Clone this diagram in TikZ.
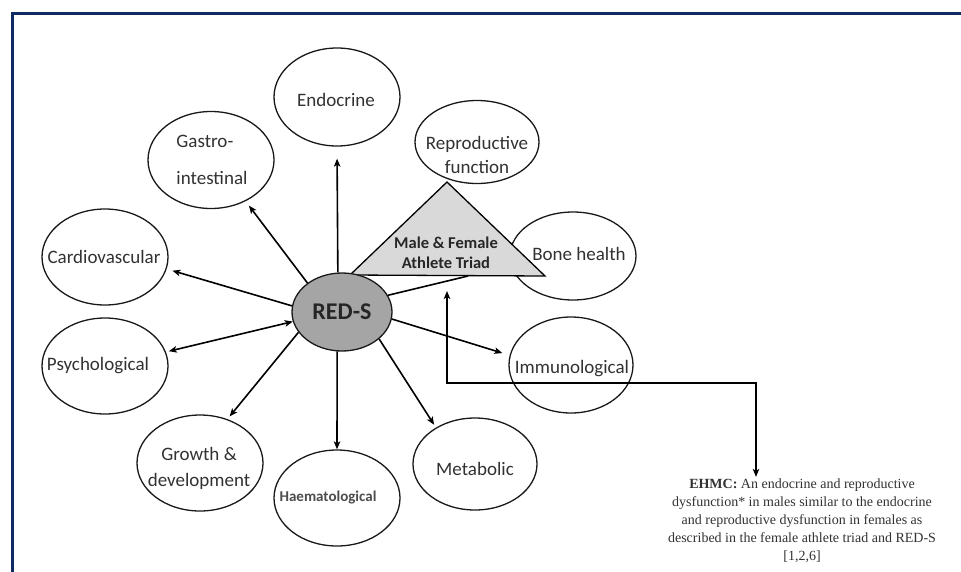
\documentclass[tikz,border=0pt]{standalone}
\usepackage{fontspec}
\setmainfont{Carlito}
\newfontfamily\serifEH{Liberation Serif}
\usetikzlibrary{shapes.geometric,arrows.meta,calc}
\definecolor{framecol}{RGB}{16,42,100}
\definecolor{txt}{RGB}{50,50,50}
\definecolor{redsfill}{RGB}{165,165,165}
\definecolor{trifill}{RGB}{217,217,217}
\begin{document}
\begin{tikzpicture}[x=1pt,y=-1pt,
  bubble/.style={ellipse, draw=black!90, line width=1.3pt, fill=white, inner sep=0pt, minimum width=126pt, minimum height=96pt},
  lbl/.style={inner sep=0pt, text=txt, font=\fontsize{19}{23}\selectfont, align=center},
  arr/.style={line width=1.6pt, -{Stealth[length=8pt,width=6.5pt,inset=2pt]}},
  dbl/.style={line width=1.6pt, {Stealth[length=8pt,width=6.5pt,inset=2pt]}-{Stealth[length=8pt,width=6.5pt,inset=2pt]}},
  plain/.style={line width=1.6pt}]
\useasboundingbox (0,0) rectangle (961,571);
\fill[white] (0,0) rectangle (961,571);
\draw[framecol, line width=3pt] (12,573) -- (12,13) -- (963,13);

% outer bubbles
\node[bubble, minimum height=98pt] (endo) at (337,97) {};
\node[bubble, minimum height=97pt] (gastro) at (211,160) {};
\node[bubble, minimum width=124pt, minimum height=83pt] (repro) at (477,142) {};
\node[bubble, minimum height=88pt] (bone) at (573,256) {};
\node[bubble] (cardio) at (105,257) {};
\node[bubble] (psych) at (105,366) {};
\node[bubble] (growth) at (200,463) {};
\node[bubble] (haem) at (337,498) {};
\node[bubble, minimum width=124pt, minimum height=92pt] (metab) at (475,464) {};
\node[bubble, minimum width=124pt] (immuno) at (571,365) {};

% labels
\node[lbl] (endoT) at (336,100) {Endocrine};
\node[lbl, align=left, font=\fontsize{19}{37}\selectfont] (gastroT) at (212,160) {Gastro-\\intestinal};
\node[lbl, font=\fontsize{19}{24}\selectfont] (reproT) at (477,155) {Reproductive\\function};
\node[lbl] (cardioT) at (104,257) {Cardiovascular};
\node[lbl] (psychT) at (98,366) {Psychological};
\node[lbl, font=\fontsize{19}{26}\selectfont] (growthT) at (199,468) {Growth \&\\development};
\node[lbl, font=\bfseries\fontsize{15}{18}\selectfont, text=black!70] (haemT) at (328,497) {Haematological};
\node[lbl] (metabT) at (475,469) {Metabolic};
\node[lbl] (immunoT) at (572,369) {Immunological};

% triad
\draw[line width=1.3pt, fill=trifill, line join=miter] (447,182) -- (350,275) -- (545,276) -- cycle;
\node[lbl] (boneT) at (579,254) {Bone health};
\node[lbl, font=\bfseries\fontsize{16.5}{20}\selectfont, text=black!85] (triad) at (446,253) {Male \& Female\\Athlete Triad};
\coordinate (tribase) at (468,276);
\coordinate (triin) at (447,291);

% RED-S
\node[ellipse, draw=black!90, line width=1.3pt, fill=redsfill, inner sep=0pt, minimum width=100pt, minimum height=78pt, font=\bfseries\fontsize{24}{28}\selectfont, text=black!85] (reds) at (342,312) {RED-S};

% connectors
\draw[arr, shorten >=12pt] (reds.96) -- (endo.south);
\draw[arr, shorten >=5.5pt] (reds.140) -- (gastro.310);
\draw[arr, shorten >=6pt] (reds.173) -- (cardio.349);
\draw[dbl, shorten >=3pt] (reds.191) -- (psych.13);
\draw[arr, shorten >=3.5pt] (reds.205) -- (growth.58);
\draw[arr] (reds.263) -- (haem.north);
\draw[arr, shorten >=3.3pt] (reds.324) -- (metab.137);
\draw[arr, shorten >=7.6pt] (reds.352) -- (immuno.171);
\draw[plain] (reds.20) -- (tribase);

% EHMC
\node[inner sep=0pt, align=center, text=txt, font=\serifEH\fontsize{14}{18}\selectfont] (ehmc) at (802,521)
  {\textbf{EHMC:} An endocrine and reproductive\\ dysfunction* in males similar to the endocrine\\ and reproductive dysfunction in females as\\ described in the female athlete triad and RED-S\\{}[1,2,6]};
\draw[dbl, line join=miter] (triin) -- ++(0,92) -| ([xshift=-46pt,yshift=2pt]ehmc.north);
\end{tikzpicture}
\end{document}
